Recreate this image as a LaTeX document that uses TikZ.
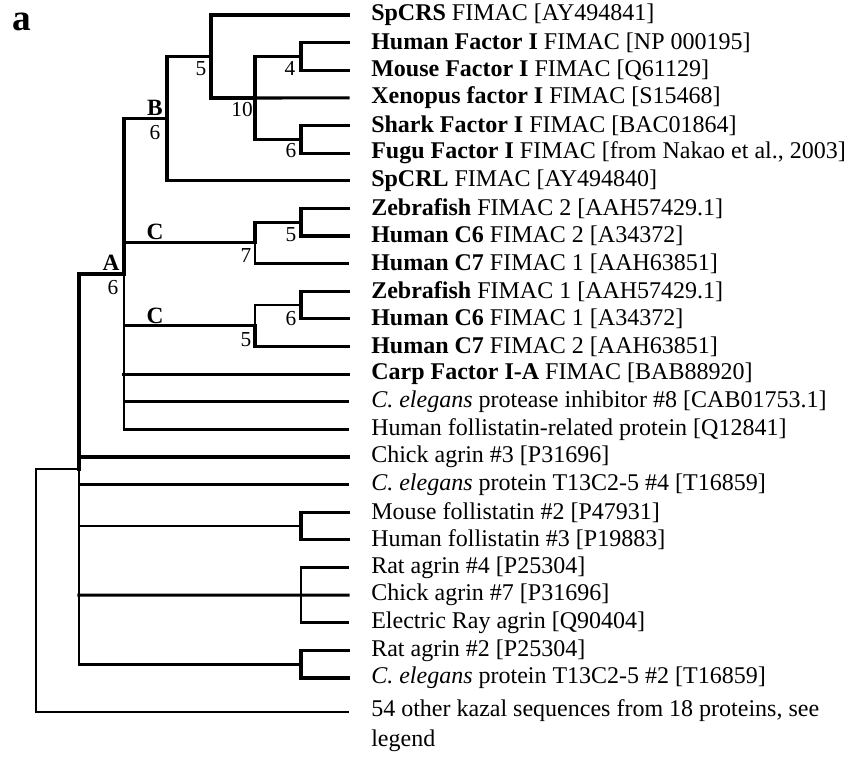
\documentclass[tikz,border=0pt]{standalone}
\usepackage{fontspec}
\setmainfont{Liberation Serif}
\begin{document}
\begin{tikzpicture}[x=0.75pt,y=-0.75pt,
  br/.style={line width=2.3pt,line cap=rect},
  tb/.style={line width=2.0pt,line cap=rect},
  leaf/.style={anchor=west,inner sep=0pt,font=\fontsize{18}{23}\selectfont},
  boot/.style={inner sep=0pt,font=\fontsize{16}{18}\selectfont},
  clade/.style={inner sep=0pt,anchor=base,font=\fontsize{17.5}{19}\selectfont\bfseries}]
\useasboundingbox (0,0) rectangle (848,757);
\node[inner sep=0pt,anchor=base,font=\fontsize{28}{30}\selectfont\bfseries] (lab) at (22,30) {a};
% leaf tips
\def\tipx{348}
\foreach \i in {1,...,25}{
  \coordinate (t\i) at (\tipx,{15+(\i-1)*27.625});
}
\coordinate (t26) at (\tipx,712);
% leaf labels
\node[leaf] (l1)  at (371,15) {\textbf{SpCRS} FIMAC [AY494841]};
\node[leaf] (l2)  at (371,42.6) {\textbf{Human Factor I} FIMAC [NP 000195]};
\node[leaf] (l3)  at (371,70.3) {\textbf{Mouse Factor I} FIMAC [Q61129]};
\node[leaf] (l4)  at (371,97.9) {\textbf{Xenopus factor I} FIMAC [S15468]};
\node[leaf] (l5)  at (371,125.5) {\textbf{Shark Factor I} FIMAC [BAC01864]};
\node[leaf] (l6)  at (371,153.1) {\textbf{Fugu Factor I} FIMAC [from Nakao et al., 2003]};
\node[leaf] (l7)  at (371,180.8) {\textbf{SpCRL} FIMAC [AY494840]};
\node[leaf] (l8)  at (371,208.4) {\textbf{Zebrafish} FIMAC 2 [AAH57429.1]};
\node[leaf] (l9)  at (371,236) {\textbf{Human C6} FIMAC 2 [A34372]};
\node[leaf] (l10) at (371,263.6) {\textbf{Human C7} FIMAC 1 [AAH63851]};
\node[leaf] (l11) at (371,291.3) {\textbf{Zebrafish} FIMAC 1 [AAH57429.1]};
\node[leaf] (l12) at (371,318.9) {\textbf{Human C6} FIMAC 1 [A34372]};
\node[leaf] (l13) at (371,346.5) {\textbf{Human C7} FIMAC 2 [AAH63851]};
\node[leaf] (l14) at (371,374.1) {\textbf{Carp Factor I-A} FIMAC [BAB88920]};
\node[leaf] (l15) at (371,401.8) {\textit{C. elegans} protease inhibitor \#8 [CAB01753.1]};
\node[leaf] (l16) at (371,429.4) {Human follistatin-related protein [Q12841]};
\node[leaf] (l17) at (371,457) {Chick agrin \#3 [P31696]};
\node[leaf] (l18) at (371,484.6) {\textit{C. elegans} protein T13C2-5 \#4 [T16859]};
\node[leaf] (l19) at (371,512.3) {Mouse follistatin \#2 [P47931]};
\node[leaf] (l20) at (371,539.9) {Human follistatin \#3 [P19883]};
\node[leaf] (l21) at (371,567.5) {Rat agrin \#4 [P25304]};
\node[leaf] (l22) at (371,595.1) {Chick agrin \#7 [P31696]};
\node[leaf] (l23) at (371,622.8) {Electric Ray agrin [Q90404]};
\node[leaf] (l24) at (371,650.4) {Rat agrin \#2 [P25304]};
\node[leaf] (l25) at (371,678) {\textit{C. elegans} protein T13C2-5 \#2 [T16859]};
\node[leaf,align=left,anchor=north west] (l26) at (371,699) {54 other kazal sequences from 18 proteins, see\\legend};
% internal nodes
\coordinate (n4) at (301,56.8);
\coordinate (n6a) at (301,139.3);
\coordinate (n10) at (255,98);
\coordinate (n5) at (211,56.5);
\coordinate (nB) at (167,118.6);
\coordinate (n5c) at (301,222.2);
\coordinate (nC1) at (255,242.9);
\coordinate (n6c) at (301,305.1);
\coordinate (nC2) at (255,325.8);
\coordinate (nA) at (124,274);
\coordinate (nF) at (301,526.1);
\coordinate (nAg) at (301,595.1);
\coordinate (nR) at (301,664.2);
\coordinate (nX) at (79,469);
\coordinate (root) at (36,590);
% edges: B clade
\draw[br] (n4) |- (t2); \draw[br] (n4) |- (t3);
\draw[br] (n6a) |- (t5); \draw[br] (n6a) |- (t6);
\draw[br] (n10) |- (n4); \draw[br] (n10) |- (n6a); \draw[br] (n10) -- (t4);
\draw[br] (n5) |- (t1); \draw[br] (n5) |- (n10);
\draw[br] (nB) |- (n5); \draw[br] (nB) |- (t7);
% C clades
\draw[br] (n5c) |- (t8); \draw[br] (n5c) |- (t9);
\draw[br] (nC1) |- (n5c); \draw[tb] (nC1) |- (t10);
\draw[br] (n6c) |- (t11); \draw[br] (n6c) |- (t12);
\draw[tb] (nC2) |- (n6c); \draw[br] (nC2) |- (t13);
% A clade
\draw[br] (nA) |- (nB);
\draw[br] (nA |- nC1) -- (nC1);
\draw[tb] (nA |- nC2) -- (nC2);
\draw[br] (nA |- t14) -- (t14);
\draw[tb] (nA |- t15) -- (t15);
\draw[tb] (nA) |- (t16);
% X clade
\draw[br] (nX) |- (nA);
\draw[br] (nX |- t17) -- (t17);
\draw[tb] (nX |- t18) -- (t18);
\draw[tb] (nX |- nF) -- (nF);
\draw[br] (nF) |- (t19); \draw[br] (nF) |- (t20);
\draw[br] (nX |- nAg) -- (t22);
\draw[tb] (nAg) |- (t21); \draw[tb] (nAg) |- (t23);
\draw[tb] (nX) |- (nR);
\draw[br] (nR) |- (t24); \draw[br] (nR) |- (t25);
% root
\draw[tb] (root) |- (nX);
\draw[tb] (root) |- (t26);
% bootstrap and clade labels
\node[boot] (b4) at (290,68) {4};
\node[boot] (b5) at (201,69) {5};
\node[boot] (b10) at (242,110) {10};
\node[boot] (b6a) at (291,151) {6};
\node[clade] (cB) at (155,115) {B};
\node[boot] (b6B) at (155,133) {6};
\node[clade] (cC1) at (155,239) {C};
\node[boot] (b5c) at (291,235) {5};
\node[boot] (b7) at (246,256) {7};
\node[clade] (cA) at (111,270) {A};
\node[boot] (b6A) at (113,288) {6};
\node[clade] (cC2) at (155,323) {C};
\node[boot] (b6c) at (291,319) {6};
\node[boot] (b5C2) at (246,340) {5};
\end{tikzpicture}
\end{document}
